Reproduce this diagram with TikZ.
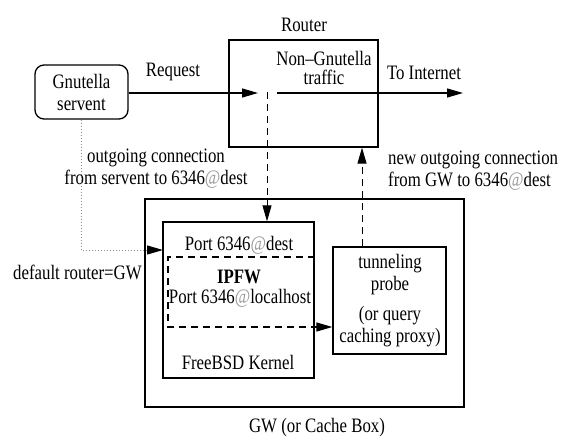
\documentclass[tikz,border=0pt]{standalone}
\usepackage{fontspec}
\setmainfont{Liberation Serif}[FakeStretch=0.82]
\usetikzlibrary{arrows.meta}
\newcommand{\grayat}{\textcolor{black!40}{@}}
\begin{document}
\begin{tikzpicture}[x=1pt,y=-1pt,
  txt/.style={inner sep=0pt, font=\fontsize{20.5}{22}\selectfont, align=center},
  boxed/.style={draw, line width=1.3pt, inner sep=0pt},
  arr/.style={line width=1.2pt, -{Triangle[length=16pt,width=9pt]}},
  dsh/.style={line width=0.9pt, dash pattern=on 7pt off 5pt},
  dots/.style={draw=black!45, line width=1pt, dash pattern=on 1pt off 2pt,
               -{Triangle[length=16pt,width=9pt,color=black]}},
]
\useasboundingbox (0,0) rectangle (561,441);

% boxes
\node[boxed, rounded corners=9pt, minimum width=93pt, minimum height=54pt, txt] (servent) at (81.5,92) {Gnutella\\servent};
\node[boxed, minimum width=149pt, minimum height=107pt] (router) at (303.5,93.5) {};
\node[boxed, minimum width=319pt, minimum height=208pt] (gw) at (304.5,303) {};
\node[boxed, minimum width=151pt, minimum height=156pt] (kernel) at (238.5,300) {};
\node[boxed, minimum width=113pt, minimum height=107pt] (tunnel) at (389.5,300.5) {};

% labels
\node[txt] (routerlbl) at (304,25) {Router};
\node[txt, font=\fontsize{20.5}{19.5}\selectfont] (nongnu) at (324,68) {Non\textendash Gnutella\\traffic};
\node[txt] (inetlbl) at (424,73) {To Internet};
\node[txt] (reqlbl) at (173,72) {Request};
\node[txt] (outlbl) at (156,169) {outgoing connection\\from servent to 6346\grayat dest};
\node[txt, align=left, anchor=west] (newlbl) at (388,171) {new outgoing connection\\from GW to 6346\grayat dest};
\node[txt, anchor=west] (deflbl) at (13,272) {default router=GW};
\node[txt] (portdest) at (239,245) {Port 6346\grayat dest};
\node[txt, font=\fontsize{20.5}{22}\selectfont\bfseries] (ipfw) at (239,277) {IPFW};
\node[txt] (portlocal) at (240,298.5) {Port 6346\grayat localhost};
\node[txt] (kernlbl) at (238,362) {FreeBSD Kernel};
\node[txt] (probelbl) at (390,275) {tunneling\\probe};
\node[txt] (proxylbl) at (390,327) {(or query\\caching proxy)};
\node[txt] (gwlbl) at (317,428) {GW (or Cache Box)};

% free ends of connectors
\coordinate (reqend) at (258,93);
\coordinate (trafstart) at (277,93);
\coordinate (inet) at (463,93);
\coordinate (dropx) at (267,92);
\coordinate (upx) at (362,0);
\coordinate (dotend) at (163,250);
\coordinate (ipfwtl) at (168,257);
\coordinate (ipfwbl) at (168,327);

% connectors
\draw[arr] (servent.east |- reqend) -- (reqend);
\draw[arr] (trafstart) -- (inet);
\draw[arr, dsh] (dropx) -- (dropx |- kernel.north);
\draw[arr, dsh] (tunnel.north -| upx) -- (router.south -| upx);
\draw[dots] (servent.south) |- (dotend);
\draw[dsh, line width=1.2pt] (kernel.east |- ipfwtl) -- (ipfwtl) -- (ipfwbl) -- (kernel.east |- ipfwbl);
\draw[arr] (kernel.east |- ipfwbl) -- (tunnel.west |- ipfwbl);
\end{tikzpicture}
\end{document}
